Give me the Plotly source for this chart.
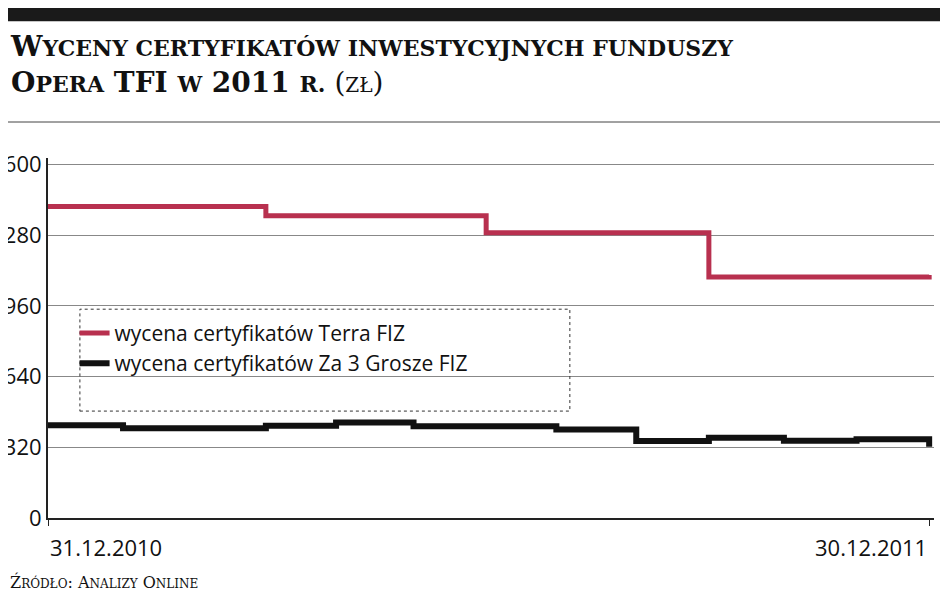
import plotly.graph_objects as go

# wyceny certyfikatow (zl)
terra_dates = ["2010-12-31", "2011-03-31", "2011-06-30", "2011-09-30", "2011-12-29", "2011-12-30"]
terra_vals = [1410, 1368, 1291, 1091, 1091, 1100]

grosze_dates = ["2010-12-31", "2011-01-31", "2011-03-31", "2011-04-29", "2011-05-31",
                "2011-07-29", "2011-08-31", "2011-09-30", "2011-10-31", "2011-11-30",
                "2011-12-29", "2011-12-30"]
grosze_vals = [420, 406, 418, 432, 415, 401, 349, 363, 350, 356, 356, 323]

y_ticks = [0, 320, 640, 960, 1280, 1600]
x_ticks = ["2010-12-31", "2011-12-30"]
x_labels = ["31.12.2010", "30.12.2011"]

fig = go.Figure()
fig.add_trace(go.Scatter(x=terra_dates, y=terra_vals, mode="lines", line_shape="hv",
                         line=dict(color="#b8304f", width=5),
                         name="wycena certyfikatów Terra FIZ"))
fig.add_trace(go.Scatter(x=grosze_dates, y=grosze_vals, mode="lines", line_shape="hv",
                         line=dict(color="#111111", width=6),
                         name="wycena certyfikatów Za 3 Grosze FIZ"))

fig.update_layout(
    width=948, height=593,
    margin=dict(l=40, r=22, t=150, b=83, autoexpand=False),
    paper_bgcolor="white", plot_bgcolor="white",
    font=dict(family="Open Sans", size=20, color="#111"),
    showlegend=True,
    legend=dict(x=0.03, y=0.57, xanchor="left", yanchor="top", bgcolor="rgba(0,0,0,0)",
                font=dict(size=21), tracegroupgap=0),
    xaxis=dict(range=["2010-12-31", "2012-01-01"], tickvals=x_ticks, showticklabels=False,
               showgrid=False, showline=True, linecolor="#222", linewidth=2, automargin=False,
               ticks="outside", ticklen=6, tickcolor="#222"),
    yaxis=dict(range=[0, 1630], tickvals=y_ticks, showgrid=True, gridcolor="#888",
               gridwidth=1, showline=True, linecolor="#222", linewidth=2, automargin=False,
               ticks="", tickfont=dict(size=22), zeroline=False),
)

# x tick labels, aligned to the axis ends
for d, lab, anchor in zip(x_ticks, x_labels, ["left", "right"]):
    fig.add_annotation(x=d, y=0, xref="x", yref="y", yshift=-12, xanchor=anchor, yanchor="top",
                       text=lab, showarrow=False, font=dict(size=22))

# dashed legend frame
fig.add_shape(type="rect", xref="paper", yref="paper", x0=0.036, x1=0.589, y0=0.297, y1=0.58,
              line=dict(color="#333", width=1, dash="dot"))
# top black bar and separator
fig.add_shape(type="rect", xref="paper", yref="paper", x0=-0.05, x1=1.03, y0=1.38, y1=1.45,
              line=dict(width=0), fillcolor="#1a1a1a")
fig.add_shape(type="line", xref="paper", yref="paper", x0=-0.05, x1=1.03, y0=1.1, y1=1.1,
              line=dict(color="#444", width=1))

fig.add_annotation(xref="paper", yref="paper", x=-0.045, y=1.36, xanchor="left", yanchor="top",
                   align="left", showarrow=False,
                   text="<b>W<span style='font-size:22px'>YCENY CERTYFIKATÓW INWESTYCYJNYCH FUNDUSZY</span></b><br>"
                        "<b>O<span style='font-size:22px'>PERA</span> TFI <span style='font-size:22px'>W</span> 2011 <span style='font-size:22px'>R.</span></b> (<span style='font-size:20px'>ZŁ</span>)",
                   font=dict(family="DejaVu Serif", size=28, color="#111"))
fig.add_annotation(xref="paper", yref="paper", x=-0.045, y=-0.145, xanchor="left", yanchor="top",
                   showarrow=False,
                   text="Ź<span style='font-size:12px'>RÓDŁO</span>: A<span style='font-size:12px'>NALIZY</span> O<span style='font-size:12px'>NLINE</span>",
                   font=dict(family="DejaVu Serif", size=16, color="#111"))

fig.write_html("out.html")
